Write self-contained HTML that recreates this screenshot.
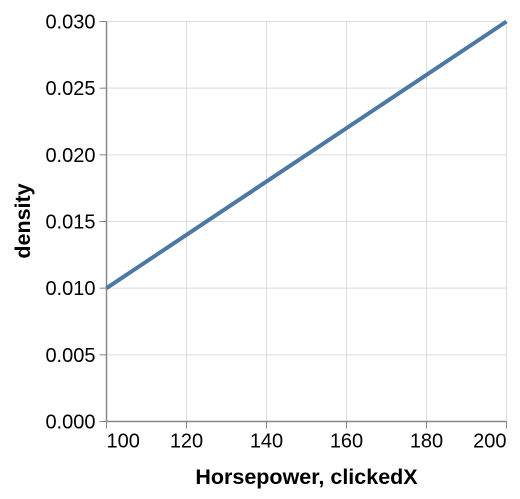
<!DOCTYPE html>
<html><head><meta charset="utf-8"><style>
body{margin:0;background:#fff}
svg text{font-family:"Liberation Sans",Arial,sans-serif;fill:#000}
</style></head><body>
<svg id="chart" width="520" height="494" xmlns="http://www.w3.org/2000/svg">
<g id="grid"></g>
<g id="axes"></g>
<g id="marks"></g>
<text x="306.5" y="484" text-anchor="middle" font-weight="bold" font-size="21.5">Horsepower, clickedX</text>
<text transform="translate(30,221) rotate(-90)" text-anchor="middle" font-weight="bold" font-size="21.5">density</text>
</svg>
<script>
const xTicks=[100,120,140,160,180,200];
const yTicks=[0,0.005,0.010,0.015,0.020,0.025,0.030];
const yTickLabels=["0.000","0.005","0.010","0.015","0.020","0.025","0.030"];
const xValues=[100,200];
const densityValues=[0.010,0.030];
const L=106.5,R=506.5,T=21.5,B=421.5;
const sx=v=>L+(v-100)/(200-100)*(R-L);
const sy=v=>B-(v-0)/(0.030)*(B-T);
const NS="http://www.w3.org/2000/svg";
function mk(p,t,a){const e=document.createElementNS(NS,t);for(const k in a)e.setAttribute(k,a[k]);p.appendChild(e);return e;}
const grid=document.getElementById('grid'),axes=document.getElementById('axes'),marks=document.getElementById('marks');
xTicks.forEach((v,i)=>{
 const g=mk(grid,'line',{x1:sx(v),x2:sx(v),y1:T,y2:B,stroke:'#ddd'});
 
 
 const t=mk(axes,'line',{x1:sx(v),x2:sx(v),y1:B,y2:B+7,stroke:'#888'});
 
 
 const anchor=i===0?'start':(i===xTicks.length-1?'end':'middle');
 const l=mk(axes,'text',{x:sx(v),y:B+26,'text-anchor':anchor,'font-size':'20'});
 l.textContent=v;
 
 
});
yTicks.forEach((v,i)=>{
 const g=mk(grid,'line',{x1:L,x2:R,y1:sy(v),y2:sy(v),stroke:'#ddd'});
 
 
 const t=mk(axes,'line',{x1:L-7,x2:L,y1:sy(v),y2:sy(v),stroke:'#888'});
 
 
 const l=mk(axes,'text',{x:L-11,y:sy(v)+7,'text-anchor':'end','font-size':'20'});
 l.textContent=yTickLabels[i];
 
 
});
const xa=mk(axes,'line',{x1:L,x2:R,y1:B,y2:B,stroke:'#888','stroke-width':'1.5'});


const ya=mk(axes,'line',{x1:L,x2:L,y1:T,y2:B,stroke:'#888','stroke-width':'1.5'});


const pts=xValues.map((x,i)=>sx(x)+','+sy(densityValues[i])).join(' ');
const pl=mk(marks,'polyline',{points:pts,fill:'none',stroke:'#4c78a8','stroke-width':'4'});


</script>
</body></html>
